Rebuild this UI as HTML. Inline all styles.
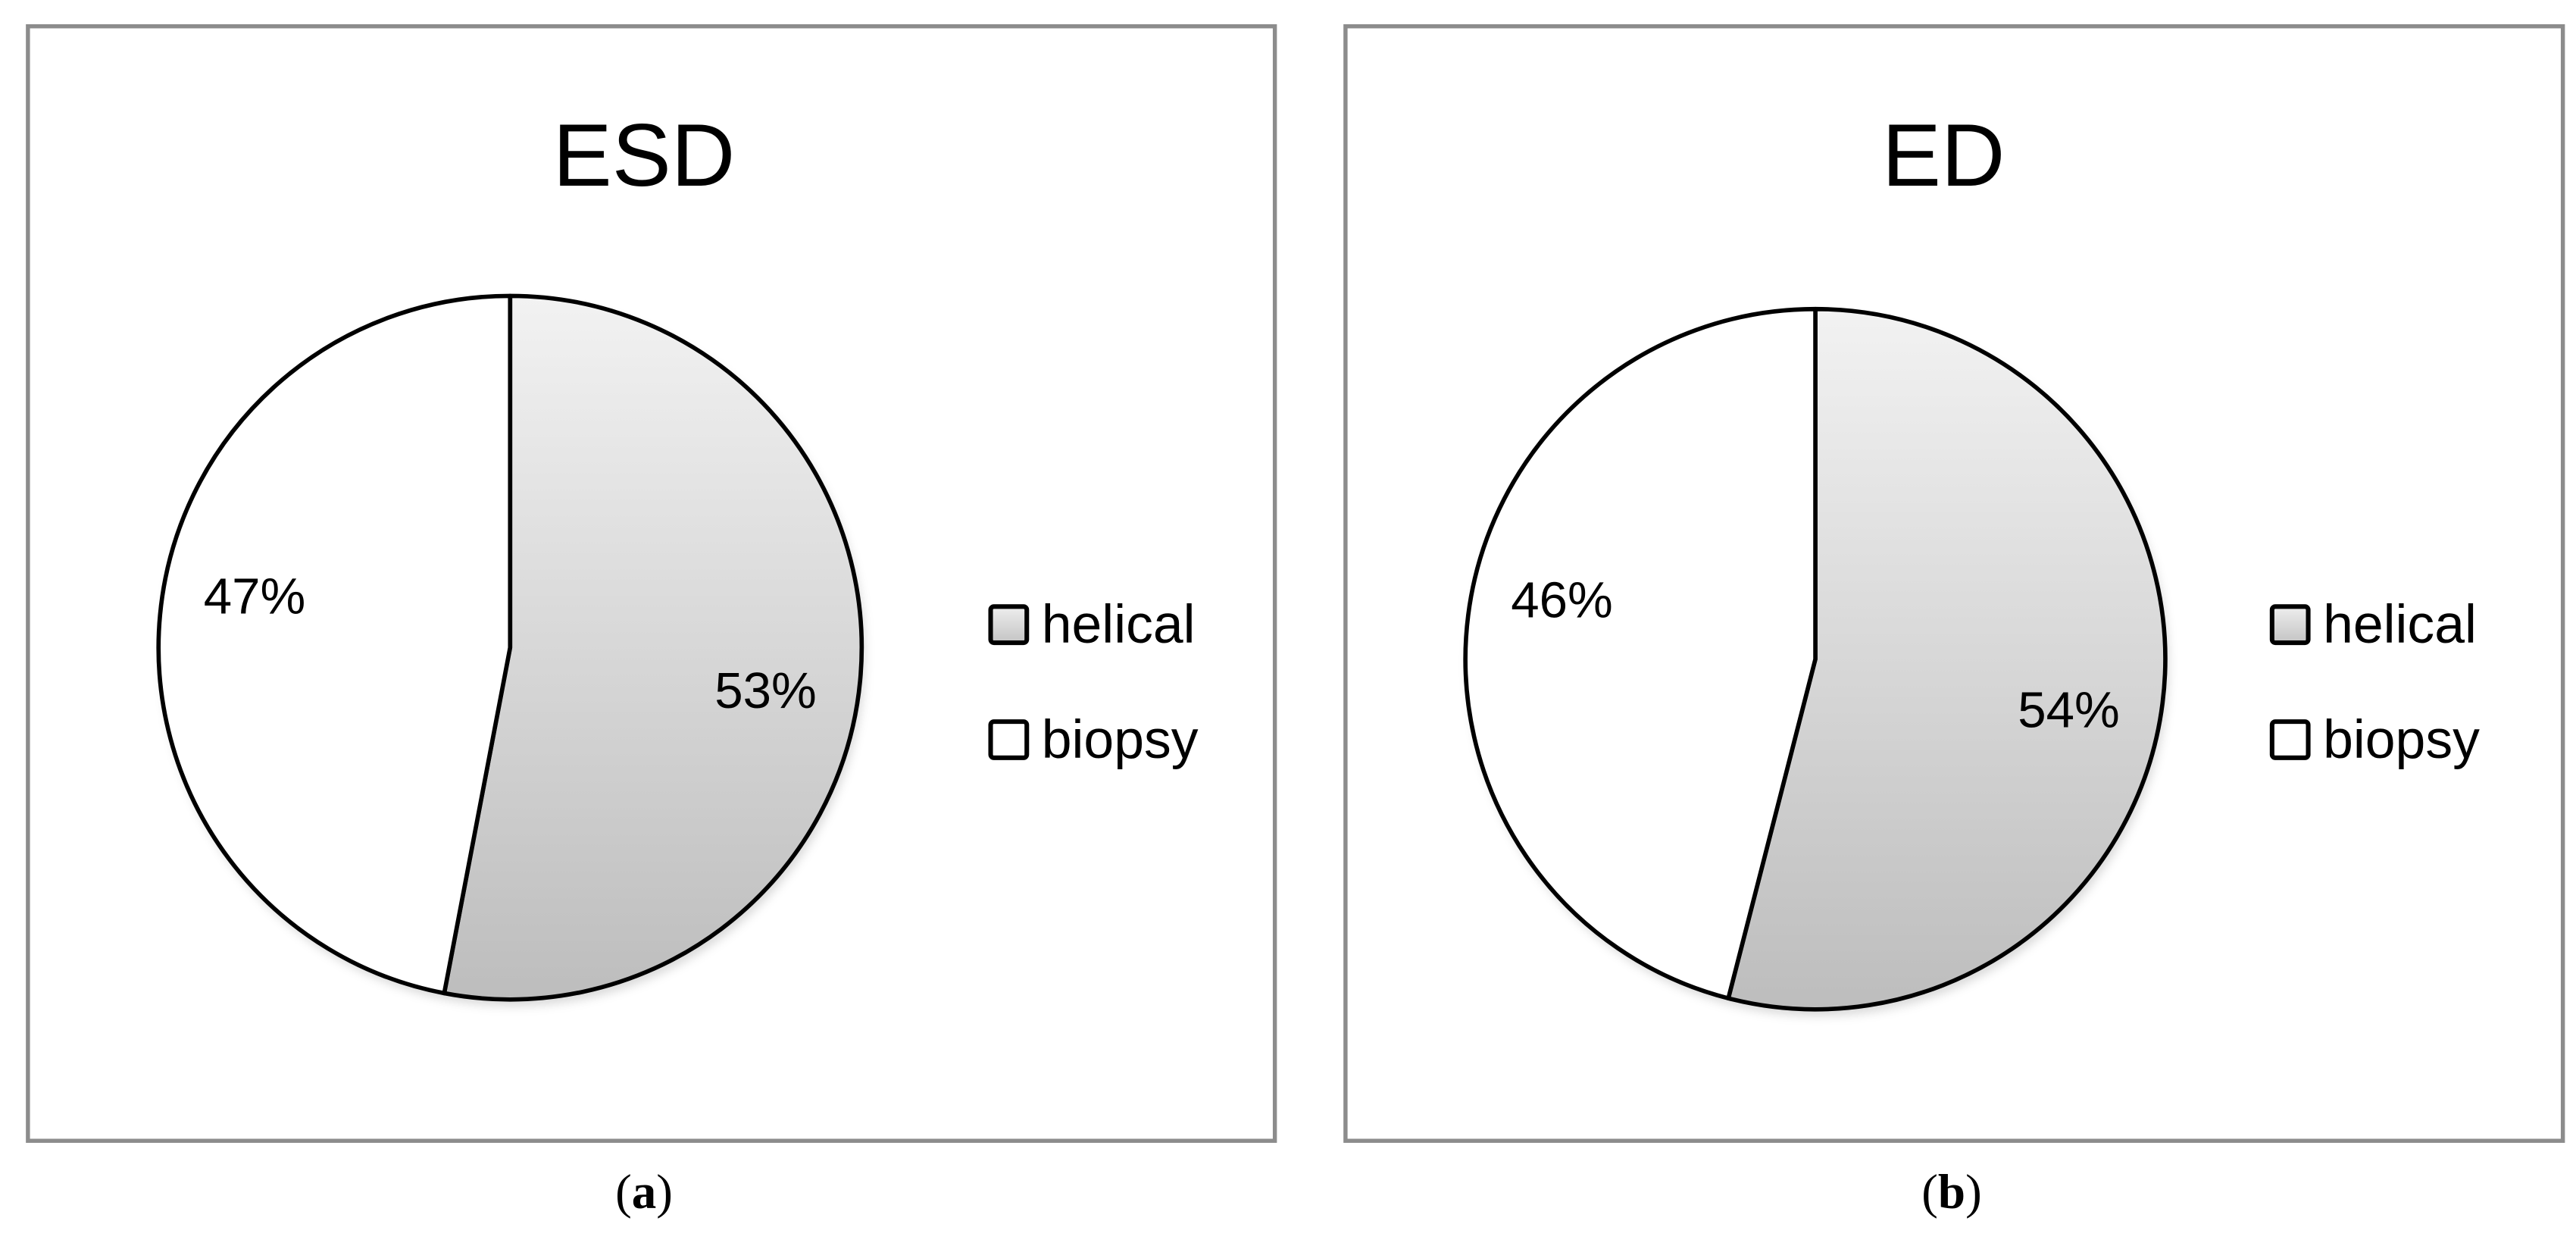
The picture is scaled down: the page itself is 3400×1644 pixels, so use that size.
<!DOCTYPE html>
<html><head><meta charset="utf-8"><style>
html,body{margin:0;padding:0;background:#fff;}
svg{display:block;}
text{font-family:"Liberation Sans",sans-serif;fill:#000;}
</style></head><body>
<svg id="fig" width="3400" height="1644" viewBox="0 0 1568 758" preserveAspectRatio="none" xmlns="http://www.w3.org/2000/svg">
<defs>
<linearGradient id="g" x1="0" y1="0" x2="0" y2="1">
<stop offset="0" stop-color="#f2f2f2"/><stop offset="1" stop-color="#bdbdbd"/>
</linearGradient>
<linearGradient id="gl" x1="0" y1="0" x2="0" y2="1">
<stop offset="0" stop-color="#eeeeee"/><stop offset="1" stop-color="#c4c4c4"/>
</linearGradient>
<filter id="sh" x="-10%" y="-10%" width="120%" height="120%"><feGaussianBlur stdDeviation="3"/></filter>
</defs>
<rect x="17" y="16" width="759" height="678" fill="#fff" stroke="#8c8c8c" stroke-width="2.5"/>
<rect x="819" y="16" width="741" height="678" fill="#fff" stroke="#8c8c8c" stroke-width="2.5"/>
<g id="charts"></g>
<text x="392" y="735" font-size="30" text-anchor="middle" style="font-family:'Liberation Serif',serif">(<tspan font-weight="bold">a</tspan>)</text>
<text x="1188" y="735" font-size="30" text-anchor="middle" style="font-family:'Liberation Serif',serif">(<tspan font-weight="bold">b</tspan>)</text>
</svg>
<script>
const titles = ["ESD", "ED"];
const categories = ["helical", "biopsy"];
const helicalValues = [53, 54];
const biopsyValues = [47, 46];

const layouts = [
  {cx:310.5, cy:394, r:214, tx:392, lx:602},
  {cx:1105, cy:401, r:213, tx:1183, lx:1382}
];
const NS = "http://www.w3.org/2000/svg";
const root = document.getElementById("charts");
function mk(tag, attrs){const e=document.createElementNS(NS,tag);for(const k in attrs)e.setAttribute(k,attrs[k]);return e;}
function pt(L,a,rr){return [L.cx+rr*Math.sin(a), L.cy-rr*Math.cos(a)];}

titles.forEach((t,i)=>{
  const L = layouts[i];
  const vals = [helicalValues[i], biopsyValues[i]];
  const total = vals[0]+vals[1];
  const title = mk("text",{x:L.tx,y:113,"font-size":54,"text-anchor":"middle"});
  title.textContent = t;
  
  
  root.appendChild(title);
  const shadow = mk("circle",{cx:L.cx+2,cy:L.cy+4,r:L.r,fill:"#000","fill-opacity":0.15,filter:"url(#sh)"});
  
  
  root.appendChild(shadow);
  let a0 = 0;
  vals.forEach((v,j)=>{
    const a1 = a0 + v/total*2*Math.PI;
    const p0 = pt(L,a0,L.r), p1 = pt(L,a1,L.r);
    const large = (a1-a0) > Math.PI ? 1 : 0;
    const d = `M${L.cx},${L.cy} L${p0[0]},${p0[1]} A${L.r},${L.r} 0 ${large} 1 ${p1[0]},${p1[1]} Z`;
    const s = mk("path",{d:d,fill:j===0?"url(#g)":"#fff",stroke:"#000","stroke-width":2.6,"stroke-linejoin":"round"});
    
    
    root.appendChild(s);
    const mid = (a0+a1)/2;
    const lp = pt(L,mid,L.r*0.73);
    const dy = j===0 ? 22 : -6;
    const lab = mk("text",{x:lp[0],y:lp[1]+dy,"font-size":31,"text-anchor":"middle"});
    lab.textContent = v + "%";
    
    
    root.appendChild(lab);
    a0 = a1;
  });
  categories.forEach((c,j)=>{
    const y = 368 + j*70;
    const sq = mk("rect",{x:L.lx+1,y:y+1,width:22,height:22,rx:2,fill:j===0?"url(#gl)":"#fff",stroke:"#000","stroke-width":2.8});
    
    
    root.appendChild(sq);
    const tx = mk("text",{x:L.lx+32,y:y+23,"font-size":33});
    tx.textContent = c;
    
    
    root.appendChild(tx);
  });
});
</script>
</body></html>
